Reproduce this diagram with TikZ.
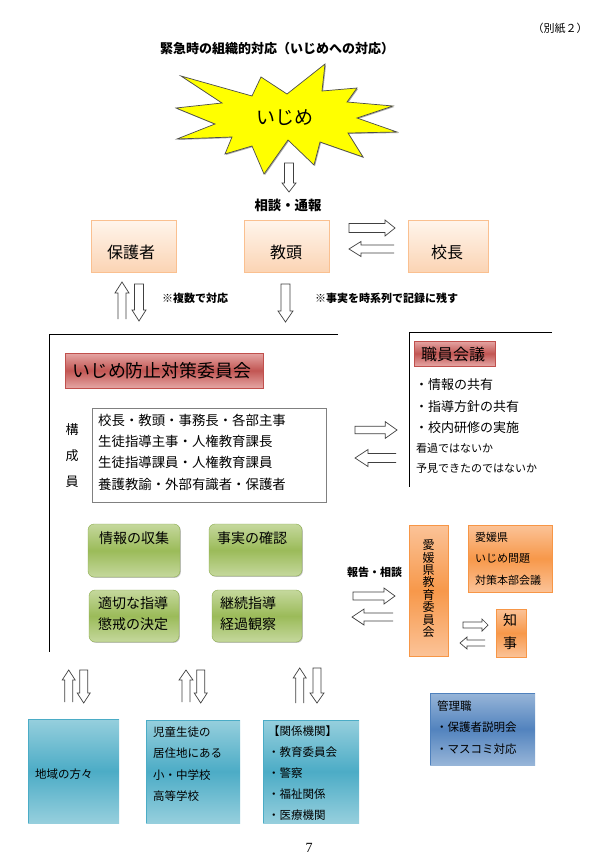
\documentclass[tikz,border=0pt]{standalone}
\usepackage{fontspec}
\setmainfont{Noto Sans CJK JP}
\newfontfamily\numfont{Liberation Serif}
\usetikzlibrary{shadows}
\definecolor{peachB}{RGB}{250,192,144}
\definecolor{peachT}{RGB}{255,245,236}
\definecolor{peachBot}{RGB}{251,212,180}
\definecolor{redL}{RGB}{229,166,164}
\definecolor{redM}{RGB}{194,86,83}
\definecolor{redB}{RGB}{192,80,77}
\definecolor{grnL}{RGB}{197,216,157}
\definecolor{grnM}{RGB}{155,187,89}
\definecolor{grnB}{RGB}{140,172,80}
\definecolor{orL}{RGB}{251,195,152}
\definecolor{orM}{RGB}{247,152,74}
\definecolor{orB}{RGB}{247,150,70}
\definecolor{tlL}{RGB}{150,207,221}
\definecolor{tlM}{RGB}{76,172,198}
\definecolor{tlB}{RGB}{75,172,198}
\definecolor{blL}{RGB}{151,181,216}
\definecolor{blM}{RGB}{82,131,190}
\definecolor{blB}{RGB}{79,129,189}
\definecolor{starY}{RGB}{255,255,0}
\newcommand\ArrR[6]{\draw[blk] (#1,#3-#4) -- (#2-#6,#3-#4) -- (#2-#6,#3-#5) -- (#2,#3) -- (#2-#6,#3+#5) -- (#2-#6,#3+#4) -- (#1,#3+#4) -- cycle;}
\newcommand\ArrL[6]{\draw[blk] (#2,#3-#4) -- (#1+#6,#3-#4) -- (#1+#6,#3-#5) -- (#1,#3) -- (#1+#6,#3+#5) -- (#1+#6,#3+#4) -- (#2,#3+#4);}
\newcommand\ArrU[6]{\draw[blk] (#1-#4,#3) -- (#1-#4,#2+#6) -- (#1-#5,#2+#6) -- (#1,#2) -- (#1+#5,#2+#6) -- (#1+#4,#2+#6) -- (#1+#4,#3);}
\newcommand\ArrD[6]{\draw[blk] (#1-#4,#2) -- (#1-#4,#3-#6) -- (#1-#5,#3-#6) -- (#1,#3) -- (#1+#5,#3-#6) -- (#1+#4,#3-#6) -- (#1+#4,#2) -- cycle;}
\begin{document}
\begin{tikzpicture}[x=1pt,y=-1pt,
  blk/.style={draw=black!75, line width=0.7pt, fill=white, line join=miter},
  frame/.style={draw=black, line width=0.8pt},
  boxbase/.style={inner sep=0pt, outer sep=0pt, anchor=north west},
  peach/.style={boxbase, draw=peachB, line width=0.6pt, top color=peachT, bottom color=peachBot,
     drop shadow={shadow xshift=1.3pt, shadow yshift=-1.3pt, opacity=0.3, fill=black}},
  redhead/.style={boxbase, draw=redB, line width=0.4pt, top color=redL, bottom color=redL, middle color=redM},
  grn/.style={boxbase, draw=grnB, line width=0.4pt, rounded corners=6pt, top color=grnL, bottom color=grnL, middle color=grnM,
     drop shadow={shadow xshift=0.8pt, shadow yshift=-0.8pt, opacity=0.25, fill=black}},
  org/.style={boxbase, draw=orB, line width=0.4pt, top color=orL, bottom color=orL, middle color=orM},
  teal/.style={boxbase, top color=tlL, bottom color=tlL, middle color=tlM},
  blu/.style={boxbase, top color=blL, bottom color=blL, middle color=blM},
  txt/.style={inner sep=0pt, anchor=west},
  ctxt/.style={inner sep=0pt, anchor=center}
]
\fill[white] (0,0) rectangle (598,864);
\useasboundingbox (0,0) rectangle (598,864);

% header texts
\node[ctxt, font=\fontsize{11}{11}\selectfont] (betsu) at (560,28) {（別紙２）};
\node[ctxt, font=\fontsize{13}{13}\selectfont\bfseries] (title) at (277,49) {緊急時の組織的対応（いじめへの対応）};

% starburst
\fill[black!35] (182,77) -- (253,97) -- (262,78) -- (288,95) -- (326,65) -- (323,92) -- (358,89) -- (348,103) -- (394,107) -- (358,119) -- (398,133) -- (349,134) -- (364,158) -- (321,143) -- (315,166) -- (289,141) -- (265,175) -- (253,147) -- (226,155) -- (233,138) -- (178,140) -- (216,125) -- (177,109) -- (223,104) -- cycle;
\draw[draw=black!70, line width=0.7pt, fill=starY, line join=miter] (181,76) -- (252,96) -- (261,77) -- (287,94) -- (325,64) -- (322,91) -- (357,88) -- (347,102) -- (393,106) -- (357,118) -- (397,132) -- (348,133) -- (363,157) -- (320,142) -- (314,165) -- (288,140) -- (264,174) -- (252,146) -- (225,154) -- (232,137) -- (177,139) -- (215,124) -- (176,108) -- (222,103) -- cycle;
\node[ctxt, font=\fontsize{19}{19}\selectfont] (ijime) at (285,118) {いじめ};

\ArrD{289}{163}{192}{4.5}{7}{9}
\node[ctxt, font=\fontsize{13.4}{13.4}\selectfont\bfseries] (soudan) at (288,205) {相談・通報};

% top boxes
\node[peach, minimum width=85pt, minimum height=52pt] (hogo) at (91,220) {};
\node[peach, minimum width=85pt, minimum height=52pt] (kyoto) at (244,220) {};
\node[peach, minimum width=80pt, minimum height=52pt] (kocho) at (408,220) {};
\node[ctxt, font=\fontsize{16}{16}\selectfont] (hogoT) at (131,252) {保護者};
\node[ctxt, font=\fontsize{16}{16}\selectfont] (kyotoT) at (286,252) {教頭};
\node[ctxt, font=\fontsize{16}{16}\selectfont] (kochoT) at (447,252) {校長};

\ArrR{349}{395}{228}{4.5}{8}{10}
\ArrL{349}{394}{249}{4}{7.5}{12}

\ArrU{122}{282}{319}{4}{7}{11}
\ArrD{139}{284}{321}{4.5}{7}{11}
\ArrD{285.5}{284}{322}{4.5}{7.5}{11}
\node[txt, font=\fontsize{11}{11}\selectfont\bfseries] (note1) at (162,298) {※複数で対応};
\node[txt, font=\fontsize{11}{11}\selectfont\bfseries] (note2) at (315,298) {※事実を時系列で記録に残す};

% frames
\draw[frame] (338,334) -- (49,334) -- (49,652);
\draw[frame] (552,332) -- (409,332) -- (409,487);

% committee
\node[redhead, minimum width=198pt, minimum height=35pt] (iinkai) at (65,353) {};
\node[txt, font=\fontsize{17.9}{17.9}\selectfont] (iinkaiT) at (72,371) {いじめ防止対策委員会};
\node[ctxt, align=center, font=\fontsize{13}{26}\selectfont] (kousei) at (72,456) {構\\成\\員};
\node[boxbase, draw=black!50, line width=0.8pt, fill=white, minimum width=234pt, minimum height=94pt] (member) at (92,408) {};
\node[txt, align=left, font=\fontsize{13.4}{21.3}\selectfont] (memberT) at (98,452) {校長・教頭・事務長・各部主事\\生徒指導主事・人権教育課長\\生徒指導課員・人権教育課員\\養護教諭・外部有識者・保護者};

\ArrR{355}{397}{430}{3.7}{8.3}{11.7}
\ArrL{355}{396}{458}{4.5}{8.5}{13}

% staff meeting
\node[redhead, minimum width=81pt, minimum height=25pt] (shokuin) at (414,341) {};
\node[txt, font=\fontsize{16}{16}\selectfont] (shokuinT) at (421,354) {職員会議};
\node[txt, align=left, font=\fontsize{13}{21.5}\selectfont] (bullets) at (415,406.5) {・情報の共有\\・指導方針の共有\\・校内研修の実施};
\node[txt, font=\fontsize{11}{11}\selectfont] (kanka) at (416,448) {看過ではないか};
\node[txt, font=\fontsize{11}{11}\selectfont] (yoken) at (416,469) {予見できたのではないか};

% green boxes
\node[grn, minimum width=92pt, minimum height=53pt] (g1) at (88,524) {};
\node[grn, minimum width=93pt, minimum height=52pt] (g2) at (209,524) {};
\node[grn, minimum width=90pt, minimum height=52pt] (g3) at (89,590) {};
\node[grn, minimum width=90pt, minimum height=52pt] (g4) at (212,590) {};
\node[txt, font=\fontsize{14}{14}\selectfont] (g1T) at (99,538) {情報の収集};
\node[txt, font=\fontsize{14}{14}\selectfont] (g2T) at (217,538) {事実の確認};
\node[txt, align=left, font=\fontsize{14}{21}\selectfont] (g3T) at (98,613.5) {適切な指導\\懲戒の決定};
\node[txt, align=left, font=\fontsize{14}{21}\selectfont] (g4T) at (220,613.5) {継続指導\\経過観察};

% prefecture
\node[ctxt, font=\fontsize{11}{11}\selectfont\bfseries] (houkoku) at (374.5,572) {報告・相談};
\ArrR{353}{395}{596}{4}{8}{11}
\ArrL{352}{393}{617}{4}{8}{12}
\node[org, minimum width=39pt, minimum height=131pt] (kyoi) at (409,525) {};
\node[ctxt, align=center, font=\fontsize{12}{12.4}\selectfont] (kyoiT) at (428.5,588.5) {愛\\媛\\県\\教\\育\\委\\員\\会};
\node[org, minimum width=84pt, minimum height=67pt] (honbu) at (468,525) {};
\node[txt, align=left, font=\fontsize{11}{21.5}\selectfont] (honbuT) at (475,558.5) {愛媛県\\いじめ問題\\対策本部会議};
\node[org, minimum width=30pt, minimum height=48pt] (chiji) at (496,609) {};
\node[ctxt, align=center, font=\fontsize{14}{23}\selectfont] (chijiT) at (510,631.5) {知\\事};
\ArrR{463}{488}{625}{3}{6}{6}
\ArrL{460}{485}{643}{3}{6}{7}

% bottom arrows
\ArrU{68.7}{670}{702}{4}{6.5}{10}
\ArrD{83.7}{670}{703}{4}{6.5}{10}
\ArrU{186}{670}{702}{4}{7}{10}
\ArrD{200.7}{670}{703}{4}{6.5}{10}
\ArrU{299.7}{668}{703}{4}{6.5}{10}
\ArrD{317}{668}{703}{4}{7}{10}

% bottom boxes
\node[teal, minimum width=91pt, minimum height=104pt] (b1) at (28,719) {};
\node[teal, minimum width=94pt, minimum height=103pt] (b2) at (146,720) {};
\node[teal, minimum width=96pt, minimum height=103pt] (b3) at (263,720) {};
\draw[draw=tlB, line width=0.7pt] (b1.south west) -- (b1.north west) -- (b1.north east);
\draw[draw=tlB, line width=0.7pt] (b2.south west) -- (b2.north west) -- (b2.north east);
\draw[draw=tlB, line width=0.7pt] (b3.south west) -- (b3.north west) -- (b3.north east);
\node[txt, font=\fontsize{11.5}{11.5}\selectfont] (b1T) at (35,774) {地域の方々};
\node[txt, align=left, font=\fontsize{11.5}{21.3}\selectfont] (b2T) at (153,764) {児童生徒の\\居住地にある\\小・中学校\\高等学校};
\node[txt, align=left, font=\fontsize{11.5}{21}\selectfont] (b3T) at (268,773) {【関係機関】\\・教育委員会\\・警察\\・福祉関係\\・医療機関};

\node[blu, minimum width=105pt, minimum height=72pt] (kanri) at (430,693) {};
\draw[draw=blB, line width=0.7pt] (kanri.south west) -- (kanri.north west) -- (kanri.north east);
\node[txt, font=\fontsize{11.5}{11.5}\selectfont] (kanriT) at (437,706) {管理職};
\node[txt, align=left, font=\fontsize{11.5}{22}\selectfont] (kanriB) at (436,738) {・保護者説明会\\・マスコミ対応};

\node[ctxt, font=\fontsize{14}{14}\numfont] (pageno) at (309,848) {7};
\end{tikzpicture}
\end{document}
